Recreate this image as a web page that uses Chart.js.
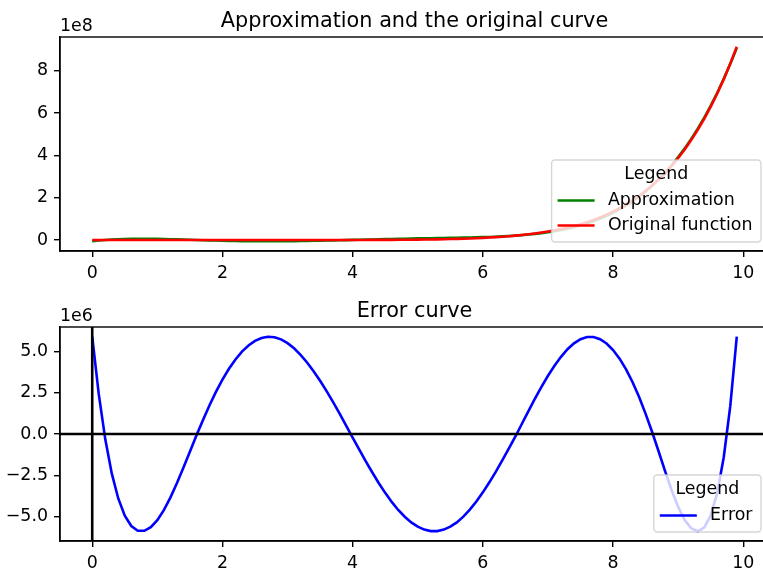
<!DOCTYPE html>
<html>
<head>
<meta charset="utf-8">
<script src="https://cdn.jsdelivr.net/npm/chart.js@4.4.1/dist/chart.umd.min.js"></script>
<style>
  html, body { margin: 0; padding: 0; background: #fff; overflow: hidden; }
  body { width: 763px; height: 570px; position: relative; }
  canvas { position: absolute; left: 0; }
  #fitChart { top: 0; }
  #errChart { top: 290px; }
</style>
</head>
<body>
<canvas id="fitChart" width="790" height="290"></canvas>
<canvas id="errChart" width="790" height="280"></canvas>
<script>
// sample points
const xs = [
  0.0, 0.1, 0.2, 0.3, 0.4, 0.5, 0.6, 0.7, 0.8, 0.9,
  1.0, 1.1, 1.2, 1.3, 1.4, 1.5, 1.6, 1.7, 1.8, 1.9,
  2.0, 2.1, 2.2, 2.3, 2.4, 2.5, 2.6, 2.7, 2.8, 2.9,
  3.0, 3.1, 3.2, 3.3, 3.4, 3.5, 3.6, 3.7, 3.8, 3.9,
  4.0, 4.1, 4.2, 4.3, 4.4, 4.5, 4.6, 4.7, 4.8, 4.9,
  5.0, 5.1, 5.2, 5.3, 5.4, 5.5, 5.6, 5.7, 5.8, 5.9,
  6.0, 6.1, 6.2, 6.3, 6.4, 6.5, 6.6, 6.7, 6.8, 6.9,
  7.0, 7.1, 7.2, 7.3, 7.4, 7.5, 7.6, 7.7, 7.8, 7.9,
  8.0, 8.1, 8.2, 8.3, 8.4, 8.5, 8.6, 8.7, 8.8, 8.9,
  9.0, 9.1, 9.2, 9.3, 9.4, 9.5, 9.6, 9.7, 9.8, 9.9
];

// original function, units of 1e8
const originalVals = [
  0, 0, 0, 0, 0, 0, 0, 0, 0, 0,
  0, 0, 0, 0, 0, 0, 0, 0, 0, 0,
  0.0000, 0.0000, 0.0000, 0.0000, 0.0000, 0.0000, 0.0001, 0.0001, 0.0001, 0.0001,
  0.0002, 0.0003, 0.0004, 0.0005, 0.0006, 0.0008, 0.0010, 0.0013, 0.0017, 0.0021,
  0.0026, 0.0033, 0.0041, 0.0050, 0.0062, 0.0076, 0.0092, 0.0112, 0.0135, 0.0163,
  0.0195, 0.0233, 0.0278, 0.0330, 0.0390, 0.0461, 0.0542, 0.0635, 0.0743, 0.0866,
  0.1008, 0.1169, 0.1354, 0.1563, 0.1801, 0.2071, 0.2376, 0.2721, 0.3109, 0.3545,
  0.4035, 0.4585, 0.5200, 0.5887, 0.6654, 0.7508, 0.8459, 0.9515, 1.0687, 1.1985,
  1.3422, 1.5009, 1.6762, 1.8694, 2.0822, 2.3162, 2.5733, 2.8554, 3.1648, 3.5036,
  3.8742, 4.2793, 4.7216, 5.2041, 5.7299, 6.3025, 6.9253, 7.6023, 8.3375, 9.1352
];

// approximation, units of 1e8
const approxVals = [
  -0.0590, -0.0243, 0.0031, 0.0239, 0.0391, 0.0495, 0.0558, 0.0587, 0.0587, 0.0565,
  0.0523, 0.0462, 0.0386, 0.0299, 0.0205, 0.0107, 0.0009, -0.0084, -0.0173, -0.0255,
  -0.0330, -0.0396, -0.0452, -0.0500, -0.0537, -0.0565, -0.0581, -0.0589, -0.0586, -0.0573,
  -0.0549, -0.0517, -0.0476, -0.0429, -0.0375, -0.0315, -0.0250, -0.0180, -0.0106, -0.0030,
  0.0048, 0.0127, 0.0205, 0.0282, 0.0359, 0.0433, 0.0504, 0.0573, 0.0637, 0.0699,
  0.0757, 0.0813, 0.0867, 0.0919, 0.0970, 0.1023, 0.1078, 0.1136, 0.1202, 0.1275,
  0.1362, 0.1462, 0.1582, 0.1722, 0.1888, 0.2086, 0.2314, 0.2582, 0.2895, 0.3259,
  0.3682, 0.4171, 0.4732, 0.5373, 0.6104, 0.6933, 0.7871, 0.8927, 1.0112, 1.1436,
  1.2913, 1.4552, 1.6370, 1.8380, 2.0598, 2.3040, 2.5721, 2.8660, 3.1875, 3.5377,
  3.9184, 4.3315, 4.7788, 5.2631, 5.7867, 6.3519, 6.9610, 7.6164, 8.3206, 9.0762
];

// error (original - approximation), units of 1e6
const errorVals = [
  5.90, 2.43, -0.31, -2.39, -3.91, -4.95, -5.58, -5.87, -5.87, -5.65,
  -5.23, -4.62, -3.86, -2.99, -2.05, -1.07, -0.09, 0.84, 1.73, 2.55,
  3.30, 3.96, 4.52, 5.00, 5.37, 5.65, 5.82, 5.90, 5.87, 5.74,
  5.51, 5.20, 4.80, 4.34, 3.81, 3.23, 2.60, 1.93, 1.23, 0.51,
  -0.22, -0.94, -1.64, -2.32, -2.97, -3.57, -4.12, -4.61, -5.02, -5.36,
  -5.62, -5.80, -5.89, -5.89, -5.80, -5.62, -5.36, -5.01, -4.59, -4.09,
  -3.54, -2.93, -2.28, -1.59, -0.87, -0.15, 0.62, 1.39, 2.14, 2.86,
  3.53, 4.14, 4.68, 5.14, 5.50, 5.75, 5.88, 5.88, 5.75, 5.49,
  5.09, 4.57, 3.92, 3.14, 2.24, 1.22, 0.12, -1.06, -2.27, -3.41,
  -4.42, -5.22, -5.72, -5.90, -5.68, -4.94, -3.57, -1.41, 1.69, 5.90
];

const xTicks = [0, 2, 4, 6, 8, 10];
const fitYTicks = [0, 2, 4, 6, 8];
const errYTicks = [-5, -2.5, 0, 2.5, 5];

const FONT = 'DejaVu Sans';
const TICK_PX = 17.4;
const TITLE_PX = 20.8;
const LINE_W = 2.6;

// pad a data range by 5% on each side
function padded(values) {
  const lo = Math.min(...values), hi = Math.max(...values);
  const m = (hi - lo) * 0.05;
  return [lo - m, hi + m];
}

function drawLegend(ctx, a, items) {
  ctx.font = `${TICK_PX}px "${FONT}"`;
  const textW = Math.max(...items.map(it => ctx.measureText(it.label).width));
  const w = 6 + 37 + 13.3 + textW + 8.5;
  const h = 57 + 25 * (items.length - 1);
  const right = a.right - 8, bottom = a.bottom - 9;
  const left = right - w, top = bottom - h;

  ctx.beginPath();
  ctx.roundRect(left, top, w, h, 3.5);
  ctx.fillStyle = 'rgba(255,255,255,0.8)';
  ctx.fill();
  ctx.lineWidth = 1.4;
  ctx.strokeStyle = 'rgba(204,204,204,0.8)';
  ctx.stroke();

  ctx.fillStyle = '#000';
  ctx.textBaseline = 'middle';
  ctx.textAlign = 'center';
  ctx.fillText('Legend', left + w / 2, top + 14);

  ctx.textAlign = 'left';
  items.forEach((it, i) => {
    const y = top + 40.5 + 25 * i;
    ctx.beginPath();
    ctx.moveTo(left + 6, y);
    ctx.lineTo(left + 43, y);
    ctx.lineWidth = LINE_W;
    ctx.strokeStyle = it.color;
    ctx.stroke();
    ctx.fillStyle = '#000';
    ctx.fillText(it.label, left + 56.3, y);
  });
}

// frame, title, offset text, reference lines and legend
const decor = {
  id: 'decor',
  afterDatasetsDraw(chart, args, opts) {
    const { ctx, chartArea: a, scales } = chart;
    ctx.save();
    if (opts.refLines) {
      const y0 = scales.y.getPixelForValue(0);
      const x0 = scales.x.getPixelForValue(0);
      ctx.strokeStyle = '#000';
      ctx.lineWidth = LINE_W;
      ctx.beginPath();
      ctx.moveTo(a.left, y0); ctx.lineTo(a.right, y0);
      ctx.moveTo(x0, a.top); ctx.lineTo(x0, a.bottom);
      ctx.stroke();
    }
    ctx.strokeStyle = '#000';
    ctx.lineWidth = 1.4;
    ctx.strokeRect(a.left, a.top, a.right - a.left, a.bottom - a.top);

    ctx.fillStyle = '#000';
    ctx.textBaseline = 'alphabetic';
    ctx.textAlign = 'center';
    ctx.font = `${TITLE_PX}px "${FONT}"`;
    ctx.fillText(opts.title, (a.left + a.right) / 2, a.top - 10.4);

    ctx.textAlign = 'left';
    ctx.font = `${TICK_PX}px "${FONT}"`;
    ctx.fillText(opts.offset, a.left, a.top - 6);

    drawLegend(ctx, a, opts.legend);
    ctx.restore();
  }
};

function axisStyle() {
  return {
    grid: { drawOnChartArea: false, drawTicks: true, tickLength: 6, color: '#000', lineWidth: 1.4 },
    border: { display: true, color: '#000', width: 1.4 },
  };
}

function makeChart(id, datasets, yRange, yTicks, yFmt, xAxisH, decorOpts) {
  const [xMin, xMax] = padded(xs);
  return new Chart(document.getElementById(id), {
    type: 'line',
    data: { datasets },
    options: {
      responsive: false,
      animation: false,
      devicePixelRatio: 1,
      layout: { padding: { top: 37, right: 21, left: 0, bottom: 0 } },
      elements: { point: { radius: 0 }, line: { tension: 0, borderWidth: LINE_W } },
      plugins: { legend: { display: false }, tooltip: { enabled: false }, decor: decorOpts },
      scales: {
        x: {
          type: 'linear', min: xMin, max: xMax,
          ...axisStyle(),
          afterBuildTicks: s => { s.ticks = xTicks.map(v => ({ value: v })); },
          afterFit: s => { s.height = xAxisH; },
          ticks: {
            autoSkip: false, maxRotation: 0, padding: 6, color: '#000',
            font: { family: FONT, size: TICK_PX },
            callback: v => String(v),
          },
        },
        y: {
          type: 'linear', min: yRange[0], max: yRange[1],
          ...axisStyle(),
          afterBuildTicks: s => { s.ticks = yTicks.map(v => ({ value: v })); },
          afterFit: s => { s.width = 60; },
          ticks: {
            autoSkip: false, padding: 6, color: '#000',
            font: { family: FONT, size: TICK_PX },
            callback: yFmt,
          },
        },
      },
    },
    plugins: [decor],
  });
}

const pts = vals => xs.map((x, i) => ({ x, y: vals[i] }));

makeChart('fitChart', [
  { label: 'Approximation', data: pts(approxVals), borderColor: '#008000', order: 1 },
  { label: 'Original function', data: pts(originalVals), borderColor: '#ff0000', order: 0 },
], padded(approxVals.concat(originalVals)), fitYTicks, v => String(v), 39, {
  title: 'Approximation and the original curve',
  offset: '1e8',
  refLines: false,
  legend: [
    { label: 'Approximation', color: '#008000' },
    { label: 'Original function', color: '#ff0000' },
  ],
});

makeChart('errChart', [
  { label: 'Error', data: pts(errorVals), borderColor: '#0000ff' },
], padded(errorVals), errYTicks, v => v.toFixed(1).replace('-', '\u2212'), 29, {
  title: 'Error curve',
  offset: '1e6',
  refLines: true,
  legend: [{ label: 'Error', color: '#0000ff' }],
});
</script>
</body>
</html>
